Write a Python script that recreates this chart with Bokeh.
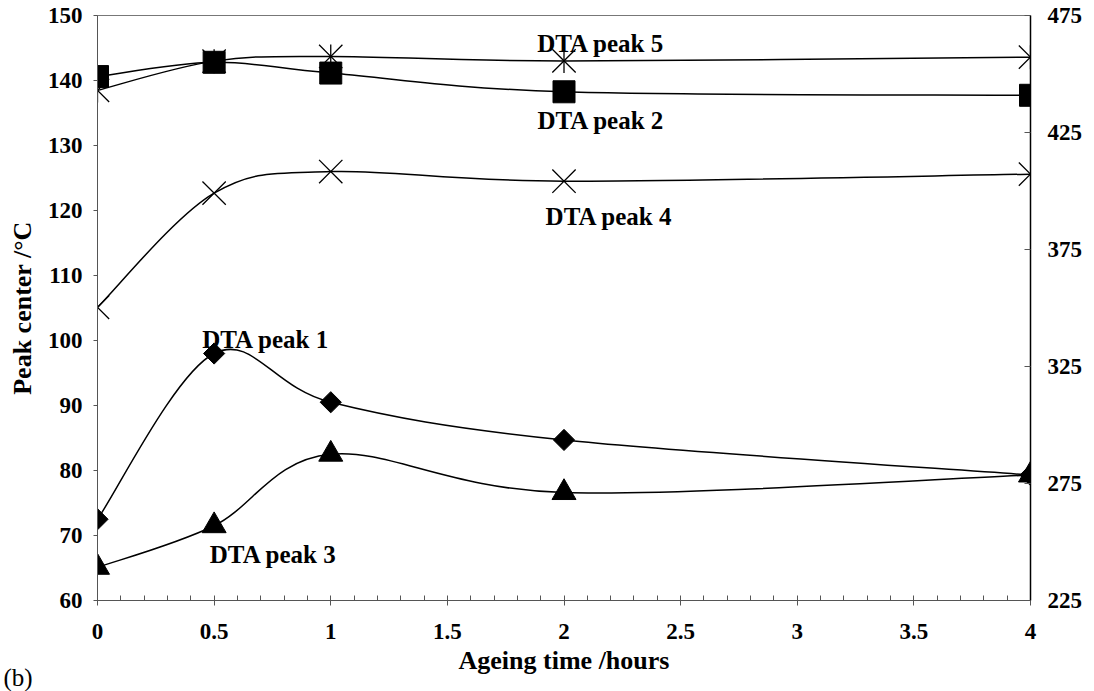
import numpy as np
from bokeh.plotting import figure
from bokeh.models import Range1d, LinearAxis, Label, FixedTicker, Title
from bokeh.embed import file_html
from bokeh.resources import INLINE

# ---- data ----
hours = [0, 0.5, 1, 2, 4]
# left axis (Peak center / °C)
peak1 = [72.5, 98.0, 90.5, 84.7, 79.3]
peak3 = [65.1, 71.5, 82.5, 76.6, 79.3]
# right axis
peak2 = [448.9, 455.0, 450.4, 442.4, 440.9]
peak4 = [350.3, 399.1, 408.3, 404.2, 407.2]
peak5 = [443.0, 455.5, 457.5, 455.6, 457.2]

x_ticks = [0, 0.5, 1, 1.5, 2, 2.5, 3, 3.5, 4]
x_tick_labels = ["0", "0.5", "1", "1.5", "2", "2.5", "3", "3.5", "4"]
left_ticks = [60, 70, 80, 90, 100, 110, 120, 130, 140, 150]
right_ticks = [225, 275, 325, 375, 425, 475]

FONT = "Liberation Serif"

p = figure(width=1094, height=691, output_backend="svg", toolbar_location=None,
           x_range=Range1d(0, 4), y_range=Range1d(60, 150),
           min_border_left=97, min_border_right=64, min_border_top=15,
           min_border_bottom=91, background_fill_color="white",
           border_fill_color="white")
p.extra_y_ranges = {"right": Range1d(225, 475)}
p.grid.visible = False
p.outline_line_color = "#777777"
p.outline_line_width = 1

minor = [round(i * 0.1, 1) for i in range(41) if i % 5]
p.xaxis.ticker = FixedTicker(ticks=x_ticks, minor_ticks=minor)
p.xaxis.major_label_overrides = {t: s for t, s in zip(x_ticks, x_tick_labels)}
p.yaxis.ticker = FixedTicker(ticks=left_ticks)

raxis = LinearAxis(y_range_name="right", ticker=FixedTicker(ticks=right_ticks))
p.add_layout(raxis, "right")

for ax in [p.xaxis[0], p.yaxis[0], raxis]:
    ax.major_label_text_font = FONT
    ax.major_label_text_font_style = "bold"
    ax.major_label_text_font_size = "23px"
    ax.major_label_text_color = "black"
    ax.axis_label_text_font = FONT
    ax.axis_label_text_font_style = "bold"
    ax.axis_label_text_font_size = "26px"
    ax.axis_label_text_color = "black"
    ax.major_tick_line_color = "#555555"
    ax.minor_tick_line_color = "#555555"
    ax.axis_line_color = "#555555"

p.xaxis.axis_label = "Ageing time /hours"
p.xaxis.major_tick_in = 5
p.xaxis.major_tick_out = 5
p.xaxis.minor_tick_in = 5
p.xaxis.minor_tick_out = 0
p.xaxis.major_label_standoff = 18
p.xaxis.axis_label_standoff = 4

p.yaxis[0].axis_label = "Peak center /°C"
p.yaxis[0].major_tick_in = 0
p.yaxis[0].major_tick_out = 4
p.yaxis[0].minor_tick_line_color = None
p.yaxis[0].major_label_standoff = 11
p.yaxis[0].axis_label_standoff = 8

raxis.major_tick_in = 6
raxis.major_tick_out = 0
raxis.minor_tick_line_color = None
raxis.major_label_standoff = 17
raxis.axis_line_color = "black"
raxis.axis_line_width = 1.5

# panel label "(b)" at the bottom-left corner
p.add_layout(Title(text="(b)", align="left", offset=-94, standoff=-28,
                   vertical_align="top", text_font=FONT, text_font_style="normal",
                   text_font_size="25px", text_color="black"), "below")


def smooth(xs, ys, t=1.0 / 6.0):
    xs = np.asarray(xs, float)
    ys = np.asarray(ys, float)
    n = len(xs)
    xp = np.concatenate([[xs[0]], xs, [xs[-1]]])
    yp = np.concatenate([[ys[0]], ys, [ys[-1]]])
    return dict(
        x0=xs[:-1], y0=ys[:-1], x1=xs[1:], y1=ys[1:],
        cx0=xs[:-1] + (xp[2:n + 1] - xp[0:n - 1]) * t,
        cy0=ys[:-1] + (yp[2:n + 1] - yp[0:n - 1]) * t,
        cx1=xs[1:] - (xp[3:n + 2] - xp[1:n]) * t,
        cy1=ys[1:] - (yp[3:n + 2] - yp[1:n]) * t,
    )


series = [
    (peak1, "default", "diamond"),
    (peak3, "default", "triangle"),
    (peak2, "right", "square"),
    (peak4, "right", "x"),
    (peak5, "right", "star"),
]
for ys, rng, m in series:
    p.bezier(line_color="black", line_width=1.5, y_range_name=rng, **smooth(hours, ys))

for ys, rng, m in series:
    if m == "diamond":
        p.scatter(hours, ys, marker="square", angle=np.pi / 4, size=15,
                  fill_color="black", line_color="black", y_range_name=rng)
    elif m == "triangle":
        p.scatter(hours, ys, marker="triangle", size=24,
                  fill_color="black", line_color="black", y_range_name=rng)
    elif m == "square":
        p.scatter(hours, ys, marker="square", size=22,
                  fill_color="black", line_color="black", y_range_name=rng)
    else:
        p.scatter(hours, ys, marker="x", size=33, fill_color=None,
                  line_color="black", line_width=1.3, y_range_name=rng)
        if m == "star":
            p.scatter(hours, ys, marker="dash", angle=np.pi / 2, size=24,
                      line_color="black", line_width=1.3, y_range_name=rng)

ann = [
    ("DTA peak 5", 1.885, 145.65),
    ("DTA peak 2", 1.886, 133.85),
    ("DTA peak 4", 1.921, 119.08),
    ("DTA peak 1", 0.449, 100.1),
    ("DTA peak 3", 0.4815, 67.08),
]
for txt, x, y in ann:
    p.add_layout(Label(x=x, y=y, text=txt, text_font=FONT, text_font_style="bold",
                       text_font_size="25px", text_color="black",
                       text_align="left", text_baseline="alphabetic"))

open("out.html", "w").write(file_html(p, INLINE))
